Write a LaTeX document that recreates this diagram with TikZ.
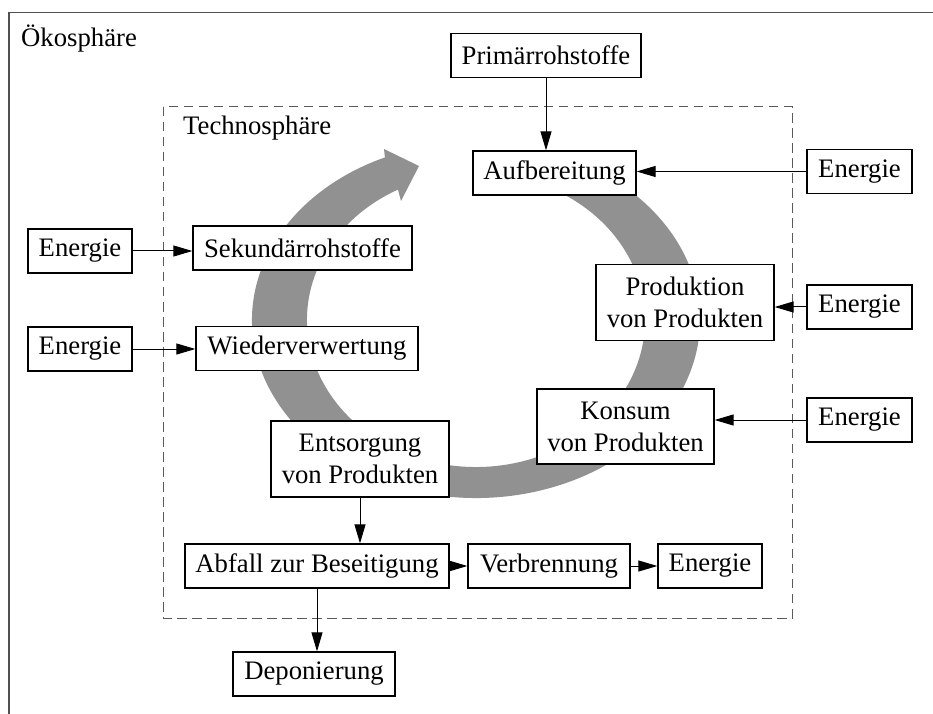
\documentclass[tikz,border=0pt]{standalone}
\usepackage{fontspec}
\setmainfont{Liberation Serif}
\usetikzlibrary{arrows.meta,calc}
\definecolor{bandgray}{RGB}{145,145,145}
\definecolor{framegray}{RGB}{80,80,80}
\definecolor{dashgray}{RGB}{90,90,90}
\begin{document}
\begin{tikzpicture}[x=1pt,y=1pt,
  box/.style={draw=black, line width=1.3pt, fill=white, inner xsep=3pt, inner ysep=2pt,
    align=center, font=\fontsize{26.7}{32}\selectfont, minimum height=44pt},
  twoline/.style={box, minimum height=76pt},
  conn/.style={line width=1pt, -{Triangle[length=19pt,width=11pt]}},
  lbl/.style={inner sep=0pt, font=\fontsize{26.7}{32}\selectfont}
]
\useasboundingbox (0,0) rectangle (933,713);

% outer frame (Oekosphaere), extends beyond the picture
\draw[framegray, line width=1.3pt] (9,-5) -- (9,700.5) -- (940,700.5);
\node[lbl, anchor=base west] (oeko) at (21,666) {Ökosphäre};

% Technosphaere (dashed)
\draw[dashgray, line width=1pt, dash pattern=on 9.5pt off 5.5pt] (163,606) rectangle (792,95);
\node[lbl, anchor=base west] (techno) at (183,578) {Technosphäre};

% big cycle arrow
\coordinate (cc) at (476,393);
\fill[bandgray] ($(cc)+(114:224pt and 178pt)$)
  arc[start angle=114, end angle=425, x radius=224pt, y radius=178pt]
  -- ($(cc)+(425:169pt and 147pt)$)
  arc[start angle=425, end angle=117.5, x radius=169pt, y radius=147pt]
  -- (401,512) -- (419,547) -- (384,564) -- cycle;

% nodes
\node[box, minimum width=190pt] (prim) at (546,657.5) {Primärrohstoffe};
\node[box, minimum width=163pt] (aufb) at (554.5,540) {Aufbereitung};
\node[box, minimum width=105pt] (eR1) at (859.5,541.5) {Energie};
\node[twoline, minimum width=178pt] (prod) at (685,410.5) {Produktion\\von Produkten};
\node[box, minimum width=105pt] (eR2) at (859.5,406) {Energie};
\node[twoline, minimum width=177pt, minimum height=75pt] (kons) at (625.5,286.5) {Konsum\\von Produkten};
\node[box, minimum width=105pt] (eR3) at (859.5,293) {Energie};
\node[box, minimum width=219pt] (sek) at (302.5,465) {Sekundärrohstoffe};
\node[box, minimum width=222pt] (wied) at (307,364.5) {Wiederverwertung};
\node[box, minimum width=104pt] (eL1) at (80,462) {Energie};
\node[box, minimum width=104pt] (eL2) at (80,364) {Energie};
\node[twoline, minimum width=178pt] (ents) at (360,254) {Entsorgung\\von Produkten};
\node[box, minimum width=264pt] (abf) at (317,147) {Abfall zur Beseitigung};
\node[box, minimum width=162pt] (verb) at (549,147) {Verbrennung};
\node[box, minimum width=104pt] (eB) at (710,147) {Energie};
\node[box, minimum width=162pt] (depo) at (314,39) {Deponierung};

% connectors
\draw[conn] (prim.south) -- (prim.south |- aufb.north);
\draw[conn] (eR1.west) -- (eR1.west -| aufb.east);
\draw[conn] (eR2.west) -- (eR2.west -| prod.east);
\draw[conn] (eR3.west) -- (eR3.west -| kons.east);
\draw[conn] (eL1.east) -- (eL1.east -| sek.west);
\draw[conn] (eL2.east) -- (eL2.east -| wied.west);
\draw[conn] (ents.south) -- (ents.south |- abf.north);
\draw[conn] (abf.south) -- (abf.south |- depo.north);
\draw[conn] (abf.east) -- (verb.west);
\draw[conn] (verb.east) -- (eB.west);
\end{tikzpicture}
\end{document}
